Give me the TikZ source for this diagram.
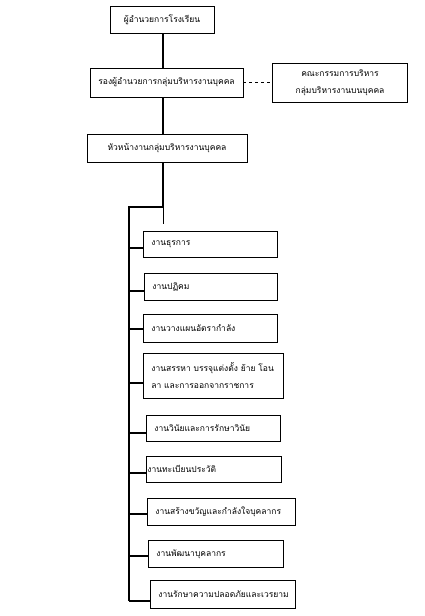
\documentclass[tikz,border=0pt]{standalone}
\usepackage{fontspec}
\newfontfamily\thaifont[Script=Thai]{Loma}
\tikzset{
  box/.style={draw, line width=0.8pt, inner sep=0pt, align=center,
              font={\thaifont\fontsize{8.5pt}{17pt}\selectfont}},
  jobbox/.style={box, anchor=north west, align=left, inner xsep=8pt}, % text starts at the left
  link/.style={line width=1.6pt},
}
\begin{document}
\begin{tikzpicture}[x=1pt,y=-1pt]
\useasboundingbox (0,0) rectangle (424,616);
\def\cx{163} % x of the main column
\def\sx{129} % x of the spine on the left

% top of the chart
\node[box, minimum width=104pt, minimum height=27pt] (boss) at (162,20) {ผู้อำนวยการโรงเรียน};
\node[box, minimum width=153pt, minimum height=29pt] (deputy) at (166.5,82.5) {รองผู้อำนวยการกลุ่มบริหารงานบุคคล};
\node[box, minimum width=135pt, minimum height=39pt] (board) at (340,82.5) {คณะกรรมการบริหาร\\กลุ่มบริหารงานบนบุคคล};
\node[box, minimum width=160pt, minimum height=28pt] (head) at (167,148) {หัวหน้างานกลุ่มบริหารงานบุคคล};

% the nine jobs
\node[jobbox, minimum height=26pt, text width=118pt] (j1) at (143,231) {งานธุรการ};
\node[jobbox, minimum height=27pt, text width=117pt] (j2) at (144,273) {งานปฏิคม};
\node[jobbox, minimum height=28pt, text width=118pt] (j3) at (143,314) {งานวางแผนอัตรากำลัง};
\node[jobbox, minimum height=45pt, text width=124pt] (j4) at (143,353) {งานสรรหา บรรจุแต่งตั้ง ย้าย โอน\\ลา และการออกจากราชการ};
\node[jobbox, minimum height=26pt, text width=118pt] (j5) at (146,415) {งานวินัยและการรักษาวินัย};
\node[jobbox, minimum height=26pt, text width=133pt, inner xsep=1pt] (j6) at (146,456) {งานทะเบียนประวัติ};
\node[jobbox, minimum height=27pt, text width=132pt] (j7) at (147,498) {งานสร้างขวัญและกำลังใจบุคลากร};
\node[jobbox, minimum height=27pt, text width=119pt] (j8) at (148,540) {งานพัฒนาบุคลากร};
\node[jobbox, minimum height=28pt, text width=129pt] (j9) at (150,580) {งานรักษาความปลอดภัยและเวรยาม};

\coordinate (knee) at (\cx,207); % where the line turns left
\coordinate (stub) at (\cx,224);
\coordinate (s1) at (\sx,248);
\coordinate (s2) at (\sx,291);
\coordinate (s3) at (\sx,329);
\coordinate (s4) at (\sx,383);
\coordinate (s5) at (\sx,433);
\coordinate (s6) at (\sx,473);
\coordinate (s7) at (\sx,514);
\coordinate (s8) at (\sx,556);
\coordinate (s9) at (\sx,601);

\draw[link] (boss.south -| knee) -- (deputy.north -| knee);
\draw[link] (deputy.south -| knee) -- (head.north -| knee);
\draw[dashed, line width=0.6pt] (deputy.east) -- (board.west);
\draw[link] (head.south -| knee) -- (knee) -| (s9);
\draw[line width=0.8pt] (knee) -- (stub);

\draw[link] (s1) -- (s1 -| j1.west);
\draw[link] (s2) -- (s2 -| j2.west);
\draw[link] (s3) -- (s3 -| j3.west);
\draw[link] (s4) -- (s4 -| j4.west);
\draw[link] (s5) -- (s5 -| j5.west);
\draw[link] (s6) -- (s6 -| j6.west);
\draw[link] (s7) -- (s7 -| j7.west);
\draw[link] (s8) -- (s8 -| j8.west);
\draw[link] (s9) -- (s9 -| j9.west);

\end{tikzpicture}
\end{document}
